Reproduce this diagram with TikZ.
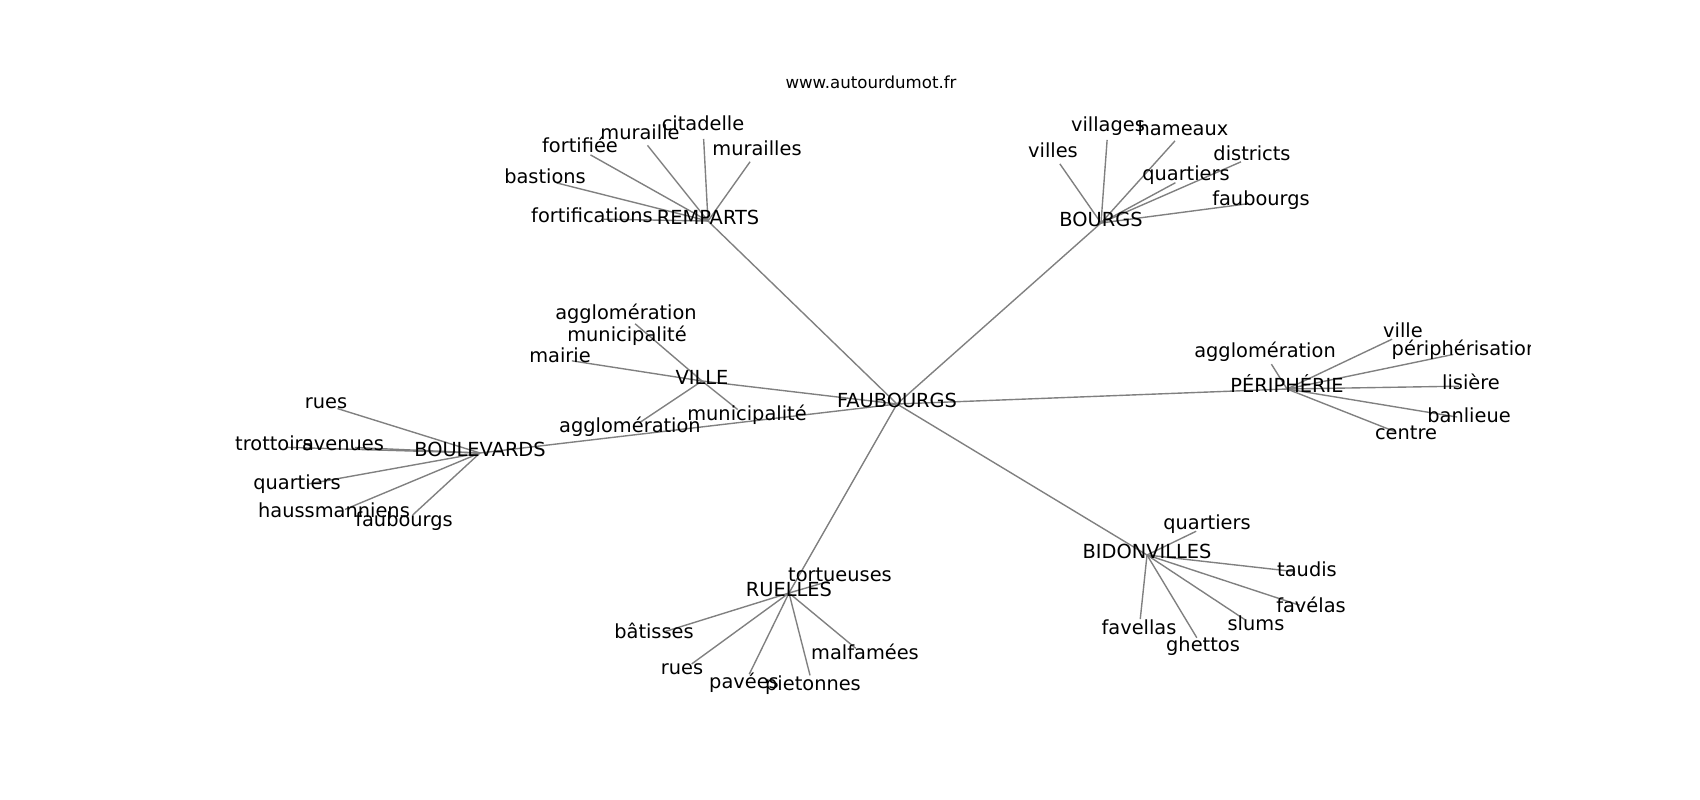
\documentclass[tikz,border=0pt]{standalone}
\usepackage{fontspec}
\setmainfont{DejaVu Sans}
\usetikzlibrary{backgrounds}
\begin{document}
\begin{tikzpicture}[x=0.01in,y=-0.01in,
  lab/.style={inner sep=0pt,text height=0.76em,text depth=0.208em,font=\fontsize{14}{16}\selectfont},
  ttl/.style={inner sep=0pt,anchor=base,font=\fontsize{12}{14}\selectfont},
  edge/.style={draw=gray,line width=1pt},
  leafedge/.style={edge,shorten >=0.12in}]
\useasboundingbox (0,0) rectangle (1700,800);
\node[ttl] (title) at (871,88.5) {www.autourdumot.fr};
\begin{scope}
\clip (212.5,96) rectangle (1530,712);
\begin{scope}[shift={(0,4)}]
% hubs
\node[lab] (fau) at (897,400) {FAUBOURGS};
\node[lab] (rem) at (708,217) {REMPARTS};
\node[lab] (bou) at (1101,219) {BOURGS};
\node[lab] (vil) at (702,377) {VILLE};
\node[lab] (bld) at (480,449) {BOULEVARDS};
\node[lab] (per) at (1287,385) {PÉRIPHÉRIE};
\node[lab] (bid) at (1147,551) {BIDONVILLES};
\node[lab] (rue) at (789,589) {RUELLES};
% remparts
\node[lab] (r1) at (592,215) {fortifications};
\node[lab] (r2) at (545,176) {bastions};
\node[lab] (r3) at (580,145) {fortifiée};
\node[lab] (r4) at (640,132) {muraille};
\node[lab] (r5) at (703,123) {citadelle};
\node[lab] (r6) at (757,148) {murailles};
% bourgs
\node[lab] (b1) at (1053,150) {villes};
\node[lab] (b2) at (1108,124) {villages};
\node[lab] (b3) at (1183,128) {hameaux};
\node[lab] (b4) at (1252,153) {districts};
\node[lab] (b5) at (1186,173) {quartiers};
\node[lab] (b6) at (1261,198) {faubourgs};
% boulevards
\node[lab] (d1) at (326,401) {rues};
\node[lab] (d2) at (274,443) {trottoirs};
\node[lab] (d3) at (343,443) {avenues};
\node[lab] (d4) at (297,482) {quartiers};
\node[lab] (d5) at (334,510) {haussmanniens};
\node[lab] (d6) at (404,519) {faubourgs};
% ville
\node[lab] (v1) at (626,312) {agglomération};
\node[lab] (v2) at (627,334) {municipalité};
\node[lab] (v3) at (560,355) {mairie};
\node[lab] (v4) at (630,425) {agglomération};
\node[lab] (v5) at (747,413) {municipalité};
% peripherie
\node[lab] (p1) at (1265,350) {agglomération};
\node[lab] (p2) at (1403,330) {ville};
\node[lab] (p3) at (1465,348) {périphérisation};
\node[lab] (p4) at (1471,382) {lisière};
\node[lab] (p5) at (1469,415) {banlieue};
\node[lab] (p6) at (1406,432) {centre};
% bidonvilles
\node[lab] (i1) at (1207,522) {quartiers};
\node[lab] (i2) at (1307,569) {taudis};
\node[lab] (i3) at (1311,605) {favélas};
\node[lab] (i4) at (1256,623) {slums};
\node[lab] (i5) at (1203,644) {ghettos};
\node[lab] (i6) at (1139,627) {favellas};
% ruelles
\node[lab] (u1) at (840,574) {tortueuses};
\node[lab] (u2) at (654,631) {bâtisses};
\node[lab] (u3) at (682,667) {rues};
\node[lab] (u4) at (744,681) {pavées};
\node[lab] (u5) at (813,683) {pietonnes};
\node[lab] (u6) at (865,652) {malfamées};
\end{scope}
\end{scope}
\begin{scope}[on background layer]
\fill[white] (0,0) rectangle (1700,800);
\foreach \h in {rem,bou,vil,bld,per,bid,rue} \draw[edge] (fau.center) -- (\h.center);
\foreach \l in {r1,r2,r3,r4,r5,r6} \draw[leafedge] (rem.center) -- (\l.center);
\foreach \l in {b1,b2,b3,b4,b5,b6} \draw[leafedge] (bou.center) -- (\l.center);
\foreach \l in {d1,d2,d3,d4,d5,d6} \draw[leafedge] (bld.center) -- (\l.center);
\foreach \l in {v1,v3,v4,v5} \draw[leafedge] (vil.center) -- (\l.center);
\foreach \l in {p1,p2,p3,p4,p5,p6} \draw[leafedge] (per.center) -- (\l.center);
\foreach \l in {i1,i2,i3,i4,i5,i6} \draw[leafedge] (bid.center) -- (\l.center);
\foreach \l in {u1,u2,u3,u4,u5,u6} \draw[leafedge] (rue.center) -- (\l.center);
\end{scope}
\end{tikzpicture}
\end{document}
